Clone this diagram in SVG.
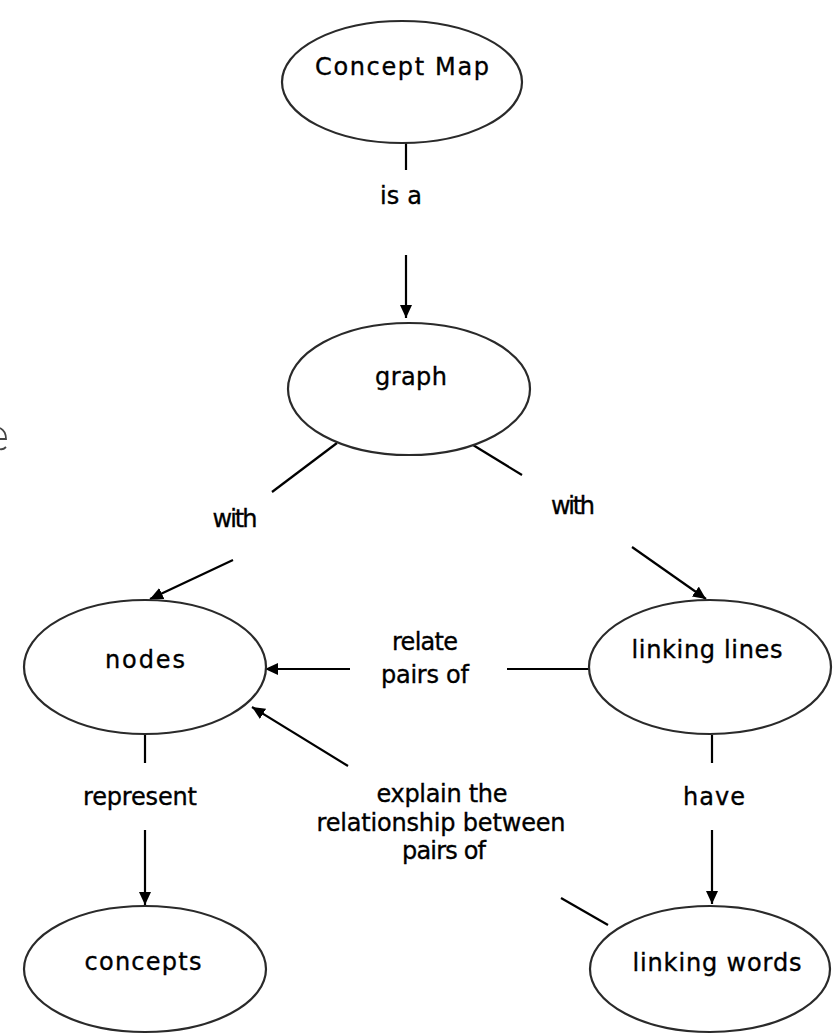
<svg xmlns="http://www.w3.org/2000/svg" width="835" height="1034" viewBox="0 0 835 1034">
<defs>
<marker id="arr" markerUnits="userSpaceOnUse" markerWidth="14" markerHeight="12" refX="13" refY="6" orient="auto">
<path d="M0,0 L13,6 L0,12 z" fill="#000"/>
</marker>
<style>
.n ellipse{fill:#fff;stroke:#2a2a2a;stroke-width:2.2}
text{font-family:"DejaVu Sans","Liberation Sans",sans-serif;font-size:24px;fill:#000;text-anchor:middle;stroke:#000;stroke-width:0.35}
.c path{fill:none;stroke:#000;stroke-width:2.2}
.c path.a{marker-end:url(#arr)}
</style>
</defs>
<rect width="835" height="1034" fill="#fff"/>
<path d="M0,428 Q6,431 6,439 L0,439 M0,449 Q3,450 6,447" fill="none" stroke="#444" stroke-width="1.8"/>
<g id="connectors" class="c">
<path d="M406,143 L406,170"/>
<path class="a" d="M406,255 L406,318"/>
<path d="M337,443 L272,492"/>
<path class="a" d="M233,560 L150,599"/>
<path d="M473,445 L522,475"/>
<path class="a" d="M632,547 L706,599"/>
<path d="M589,669 L507,669"/>
<path class="a" d="M350,669 L265,669"/>
<path d="M608,925 L561,898"/>
<path class="a" d="M348,766 L252,707"/>
<path d="M145,735 L145,763"/>
<path class="a" d="M145,830 L145,905"/>
<path d="M712,735 L712,763"/>
<path class="a" d="M712,830 L712,904"/>
</g>
<g id="labels">
<text x="401" y="204" textLength="42">is a</text>
<text x="235" y="527" textLength="45">with</text>
<text x="573" y="514" textLength="44">with</text>
<text x="425" y="650" textLength="66">relate</text>
<text x="425" y="683" textLength="88">pairs of</text>
<text x="442" y="802" textLength="131">explain the</text>
<text x="441" y="831" textLength="249">relationship between</text>
<text x="444" y="859" textLength="84">pairs of</text>
<text x="140" y="805" textLength="114">represent</text>
<text x="714" y="805" textLength="62">have</text>
</g>
<g id="concept-map" class="n"><ellipse cx="402" cy="82" rx="120" ry="61"/><text x="402" y="75" textLength="174">Concept Map</text></g>
<g id="graph" class="n"><ellipse cx="409" cy="389" rx="121" ry="66"/><text x="411" y="385" textLength="72">graph</text></g>
<g id="nodes" class="n"><ellipse cx="145" cy="667" rx="121" ry="67"/><text x="145" y="668" textLength="80">nodes</text></g>
<g id="linking-lines" class="n"><ellipse cx="710" cy="667" rx="121" ry="67"/><text x="707" y="658" textLength="151">linking lines</text></g>
<g id="concepts" class="n"><ellipse cx="145" cy="969" rx="121" ry="63"/><text x="143" y="970" textLength="117">concepts</text></g>
<g id="linking-words" class="n"><ellipse cx="710" cy="969" rx="120" ry="63"/><text x="717" y="971" textLength="169">linking words</text></g>
</svg>
